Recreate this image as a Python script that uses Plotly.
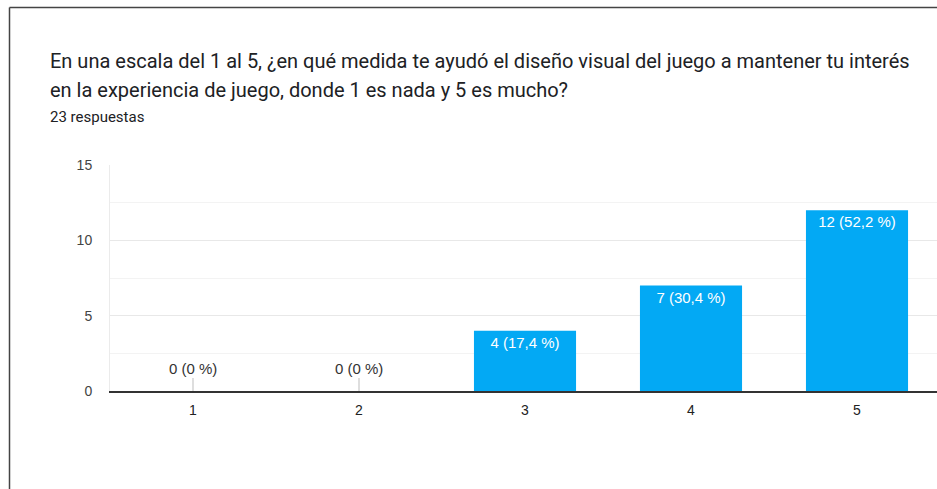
import plotly.graph_objects as go

# Data
categories = [1, 2, 3, 4, 5]
counts = [0, 0, 4, 7, 12]
total_responses = 23

question_line1 = "En una escala del 1 al 5, ¿en qué medida te ayudó el diseño visual del juego a mantener tu interés"
question_line2 = "en la experiencia de juego, donde 1 es nada y 5 es mucho?"
subtitle = f"{total_responses} respuestas"

# Layout geometry (pixels)
W, H = 937, 489
L, R, T, B = 110, 0, 165, 98
PW, PH = W - L - R, H - T - B


def px_x(x):
    return (x - L) / PW


def px_y(y):
    return (H - B - y) / PH


def label(c):
    pct = c / total_responses * 100
    if c == 0:
        return "0 (0 %)"
    return f"{c} ({pct:.1f} %)".replace(".", ",")


labels = [label(c) for c in counts]
chart_font = "Liberation Sans, Arial"

fig = go.Figure()
fig.add_trace(go.Bar(
    x=categories,
    y=counts,
    width=0.615,
    marker=dict(color="#03a9f4", line=dict(width=0)),
    text=[t if c > 0 else "" for t, c in zip(labels, counts)],
    textposition="inside",
    insidetextanchor="end",
    textfont=dict(color="#ffffff", family=chart_font, size=15),
    hoverinfo="skip",
))

# Zero-value markers with a small stem
annotations = []
for x, c, t in zip(categories, counts, labels):
    if c == 0:
        annotations.append(dict(
            x=x, y=0, xref="x", yref="y", text=t,
            showarrow=True, arrowhead=0, arrowwidth=1, arrowcolor="#bdbdbd",
            ax=0, ay=-23, font=dict(color="#333333", family=chart_font, size=15),
        ))

# Title texts
annotations += [
    dict(x=px_x(48), y=px_y(61), xref="paper", yref="paper", text=question_line1,
         showarrow=False, xanchor="left", yanchor="middle",
         font=dict(family="Roboto", size=20, color="#202124")),
    dict(x=px_x(48), y=px_y(90), xref="paper", yref="paper", text=question_line2,
         showarrow=False, xanchor="left", yanchor="middle",
         font=dict(family="Roboto", size=20, color="#202124")),
    dict(x=px_x(48), y=px_y(117), xref="paper", yref="paper", text=subtitle,
         showarrow=False, xanchor="left", yanchor="middle",
         font=dict(family="Roboto", size=15, color="#202124")),
]

fig.update_layout(
    width=W, height=H,
    margin=dict(l=L, r=R, t=T, b=B),
    paper_bgcolor="#ffffff",
    plot_bgcolor="#ffffff",
    showlegend=False,
    annotations=annotations,
    shapes=[
        dict(type="line", xref="paper", yref="paper",
             x0=px_x(9.5), y0=px_y(495), x1=px_x(9.5), y1=px_y(7.5),
             line=dict(color="#444444", width=1.5)),
        dict(type="line", xref="paper", yref="paper",
             x0=px_x(9.5), y0=px_y(7.5), x1=px_x(945), y1=px_y(7.5),
             line=dict(color="#444444", width=1.5)),
    ],
    xaxis=dict(
        range=[0.5, 0.5 + PW / 166],
        tickvals=categories,
        ticktext=[str(c) for c in categories],
        showgrid=False,
        zeroline=False,
        showline=True, linecolor="#333333", linewidth=1.5,
        ticks="",
        ticklabelstandoff=5,
        tickfont=dict(family=chart_font, size=14, color="#222222"),
        fixedrange=True,
    ),
    yaxis=dict(
        range=[0, 15],
        tickvals=[0, 5, 10, 15],
        showgrid=True, gridcolor="#e8e8e8", gridwidth=1,
        minor=dict(tickvals=[2.5, 7.5, 12.5], showgrid=True, gridcolor="#f3f3f3", gridwidth=1),
        zeroline=False,
        showline=True, linecolor="#ebebeb", linewidth=1,
        ticks="",
        ticklabelstandoff=14,
        tickfont=dict(family=chart_font, size=14, color="#444444"),
        fixedrange=True,
    ),
)

fig.write_html("out.html", config={"displayModeBar": False},
               post_script="document.body.style.margin='0';")
